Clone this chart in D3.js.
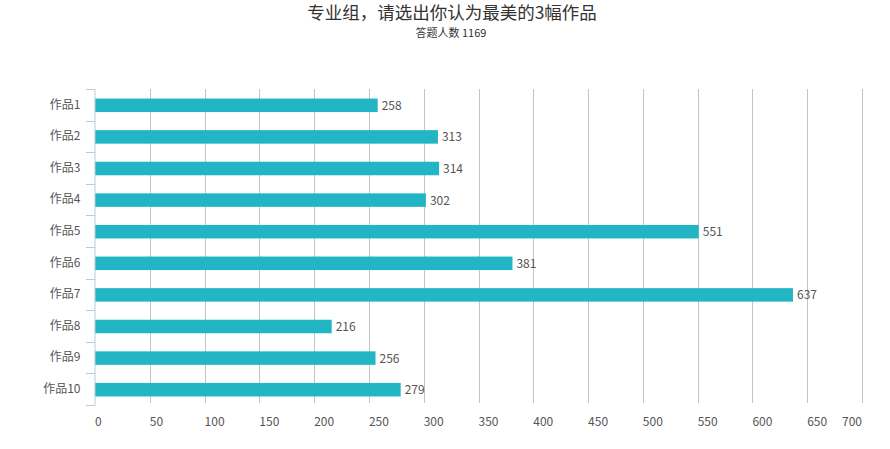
<!DOCTYPE html>
<html><head><meta charset="utf-8">
<script src="https://cdn.jsdelivr.net/npm/d3@7"></script>
<style>
body{margin:0;background:#fff;}
text{font-family:"Noto Sans CJK SC","Noto Sans",sans-serif;}
</style></head>
<body><svg id="c" width="890" height="449"></svg>
<script>
const categories = ["作品1","作品2","作品3","作品4","作品5","作品6","作品7","作品8","作品9","作品10"];
const values = [258,313,314,302,551,381,637,216,256,279];
const xTicks = [0,50,100,150,200,250,300,350,400,450,500,550,600,650,700];
const titleText = "专业组，请选出你认为最美的3幅作品";
const subtitleText = "答题人数 1169";

const svg = d3.select("#c");
const mLeft = 95, mRight = 862, mTop = 89, mBottom = 405;
const x = d3.scaleLinear().domain([0,700]).range([mLeft,mRight]);
const y = d3.scaleBand().domain(categories).range([mTop,mBottom]).padding(0);
const barH = 13.5;

// title
svg.append("text").attr("x",452).attr("y",19).attr("text-anchor","middle")
  .attr("font-size",17.5).attr("fill","#333").text(titleText);
svg.append("text").attr("x",451).attr("y",37).attr("text-anchor","middle")
  .attr("font-size",11).attr("fill","#333").text(subtitleText);

// grid
svg.append("g").selectAll("line").data(xTicks.filter(d=>d>0)).join("line")
  .attr("x1",d=>Math.round(x(d))+0.5).attr("x2",d=>Math.round(x(d))+0.5)
  .attr("y1",mTop).attr("y2",mBottom-2)
  .attr("stroke","#c4c4c4").attr("stroke-width",1);

// x labels
svg.append("g").selectAll("text").data(xTicks).join("text")
  .attr("x",d=>x(d))
  .attr("text-anchor",d=>d===700?"end":"start")
  .attr("y",426).attr("font-size",12).attr("fill","#555").text(d=>d);

// bars
svg.append("g").selectAll("rect").data(values).join("rect")
  .attr("x",x(0)).attr("y",(d,i)=>y(categories[i])+y.bandwidth()/2-barH/2+0.5)
  .attr("width",d=>x(d)-x(0)).attr("height",barH).attr("fill","#22b5c4");

// value labels
svg.append("g").selectAll("text").data(values).join("text")
  .attr("x",d=>x(d)+4).attr("y",(d,i)=>y(categories[i])+y.bandwidth()/2+5)
  .attr("font-size",12).attr("fill","#555").text(d=>d);

// y axis
const yAxis = d3.axisLeft(y).tickSize(0).tickPadding(14);
const ga = svg.append("g").attr("transform",`translate(${mLeft-0.5},0)`).call(yAxis);
ga.select(".domain").attr("stroke","#b9cbdd");
ga.selectAll("text").attr("font-size",12).attr("fill","#555")
  .style("font-family",'"Noto Sans CJK SC","Noto Sans",sans-serif');
// boundary ticks
const bounds = categories.map(c=>y(c)).concat([mBottom]);
svg.append("g").selectAll("line").data(bounds).join("line")
  .attr("x1",mLeft-9).attr("x2",mLeft).attr("y1",d=>Math.round(d)+0.5).attr("y2",d=>Math.round(d)+0.5)
  .attr("stroke","#b9cbdd");
</script></body></html>
